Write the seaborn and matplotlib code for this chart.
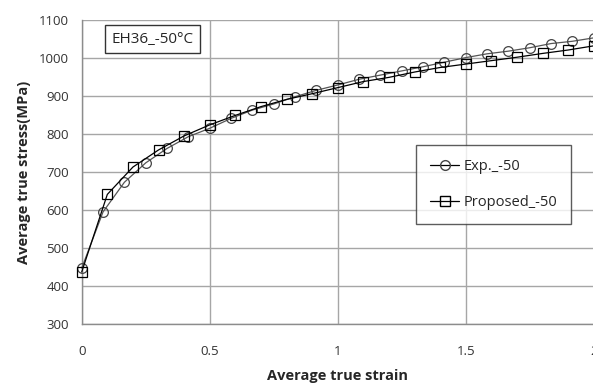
import matplotlib
matplotlib.use("Agg")
import matplotlib.pyplot as plt
import seaborn as sns
import pandas as pd
from matplotlib.lines import Line2D

# Data
exp_strain = [0.0, 0.0833, 0.1667, 0.25, 0.3333, 0.4167, 0.5, 0.5833, 0.6667, 0.75,
              0.8333, 0.9167, 1.0, 1.0833, 1.1667, 1.25, 1.3333, 1.4167, 1.5, 1.5833,
              1.6667, 1.75, 1.8333, 1.9167, 2.0]
exp_stress = [447, 595, 673, 724, 762, 793, 815, 841, 863, 879,
              898, 915, 929, 944, 955, 966, 977, 989, 1001, 1011,
              1018, 1027, 1038, 1044, 1053]
prop_strain = [0.0, 0.1, 0.2, 0.3, 0.4, 0.5, 0.6, 0.7, 0.8, 0.9, 1.0,
               1.1, 1.2, 1.3, 1.4, 1.5, 1.6, 1.7, 1.8, 1.9, 2.0]
prop_stress = [437, 641, 713, 758, 795, 824, 849, 872, 891, 906, 922,
               938, 949, 963, 975, 984, 993, 1002, 1012, 1021, 1032]
x_ticks = [0, 0.5, 1, 1.5, 2]
x_tick_labels = ["0", "0.5", "1", "1.5", "2"]
y_ticks = [300, 400, 500, 600, 700, 800, 900, 1000, 1100]
series_names = ["Exp._-50", "Proposed_-50"]
annotation = "EH36_-50\u00b0C"

sns.set_theme(style="white")
plt.rcParams['font.family'] = ['Open Sans', 'DejaVu Sans']

fig = plt.figure(figsize=(5.93, 3.92), dpi=100)
ax = fig.add_axes([0.1378, 0.1735, 0.8635, 0.7755])

df_exp = pd.DataFrame({"strain": exp_strain, "stress": exp_stress})
df_prop = pd.DataFrame({"strain": prop_strain, "stress": prop_stress})

sns.lineplot(data=df_exp, x="strain", y="stress", ax=ax, color="#555555", lw=0.9,
             marker="o", markersize=7, markerfacecolor="none", markeredgecolor="#444444",
             markeredgewidth=0.9, clip_on=False, zorder=3)
sns.lineplot(data=df_prop, x="strain", y="stress", ax=ax, color="black", lw=0.9,
             marker="s", markersize=7.5, markerfacecolor="none", markeredgecolor="black",
             markeredgewidth=0.9, clip_on=False, zorder=4)

ax.set_xlim(0, 2)
ax.set_ylim(300, 1100)
ax.set_xticks(x_ticks)
ax.set_xticklabels(x_tick_labels)
ax.set_yticks(y_ticks)
ax.tick_params(axis='both', length=0, labelsize=9.5, colors="#333333")
ax.tick_params(axis='x', pad=15)
ax.tick_params(axis='y', pad=9)
ax.grid(True, color="#a6a6a6", lw=1.0)
for side in ["top", "right"]:
    ax.spines[side].set_visible(False)
for side in ["left", "bottom"]:
    ax.spines[side].set_color("#8c8c8c")
    ax.spines[side].set_linewidth(1.0)

ax.set_xlabel("Average true strain", fontsize=10.5, fontweight="bold", labelpad=8)
ax.set_ylabel("Average true stress(MPa)", fontsize=10.5, fontweight="bold", labelpad=6)

ax.text(0.058, 0.962, annotation, transform=ax.transAxes, fontsize=11, va="top", ha="left",
        bbox=dict(boxstyle="square,pad=0.45", facecolor="white", edgecolor="#333333", lw=1.0))

handles = [
    Line2D([0], [0], color="black", lw=0.9, marker="o", markersize=7,
           markerfacecolor="none", markeredgecolor="#444444"),
    Line2D([0], [0], color="black", lw=0.9, marker="s", markersize=7,
           markerfacecolor="none", markeredgecolor="black"),
]
leg = ax.legend(handles, series_names, loc="upper left", bbox_to_anchor=(0.653, 0.589),
                fontsize=10.5, frameon=True, fancybox=False, handlelength=2.0,
                labelspacing=1.45, borderpad=0.95, handletextpad=0.3, borderaxespad=0)
leg.get_frame().set_edgecolor("#333333")
leg.get_frame().set_linewidth(1.0)

fig.savefig("out.png", dpi=100)
